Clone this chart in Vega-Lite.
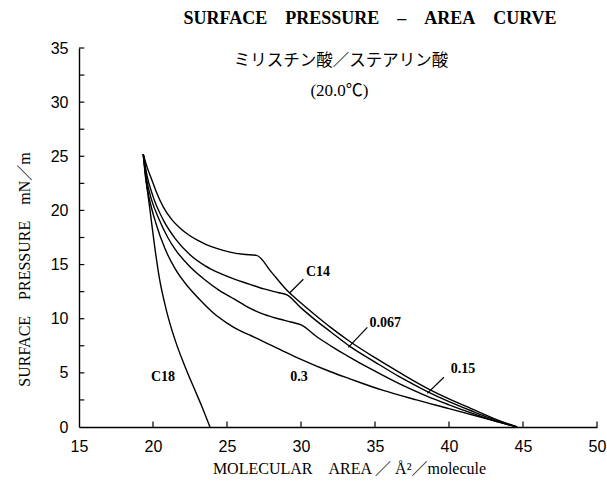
{
  "$schema": "https://vega.github.io/schema/vega-lite/v6.json",
  "autosize": "none",
  "width": 518,
  "height": 379,
  "padding": {"left": 79, "top": 48, "right": 10, "bottom": 66},
  "background": "white",
  "title": {
    "text": "SURFACE\u2003PRESSURE\u2003–\u2003AREA\u2003CURVE",
    "anchor": "middle",
    "frame": "group",
    "dx": 32,
    "offset": -2,
    "font": "Liberation Serif",
    "fontSize": 18,
    "fontWeight": "bold",
    "color": "black",
    "baseline": "alphabetic"
  },
  "config": {
    "view": {"stroke": null},
    "axis": {
      "grid": false,
      "ticks": false,
      "domainColor": "black",
      "domainWidth": 1.4,
      "labelFont": "Liberation Sans",
      "labelFontSize": 16,
      "labelColor": "black",
      "titleFont": "Liberation Serif, Noto Sans CJK JP",
      "titleFontSize": 16,
      "titleFontWeight": "normal",
      "titleColor": "black"
    }
  },
  "layer": [
    {
      "data": {
        "values": [
          {"s": "C14", "x": 19.34, "y": 25.2}, {"s": "C14", "x": 19.6, "y": 24.0}, {"s": "C14", "x": 19.9, "y": 22.9}, {"s": "C14", "x": 20.2, "y": 21.8}, {"s": "C14", "x": 20.7, "y": 20.3}, {"s": "C14", "x": 21.3, "y": 19.1}, {"s": "C14", "x": 21.8, "y": 18.4}, {"s": "C14", "x": 22.4, "y": 17.75}, {"s": "C14", "x": 23.0, "y": 17.25}, {"s": "C14", "x": 23.6, "y": 16.85}, {"s": "C14", "x": 24.3, "y": 16.5}, {"s": "C14", "x": 25.2, "y": 16.15}, {"s": "C14", "x": 26.1, "y": 15.95}, {"s": "C14", "x": 27.0, "y": 15.85}, {"s": "C14", "x": 28.0, "y": 14.3}, {"s": "C14", "x": 29.0, "y": 12.7}, {"s": "C14", "x": 30.0, "y": 11.45}, {"s": "C14", "x": 31.0, "y": 10.3}, {"s": "C14", "x": 32.0, "y": 9.2}, {"s": "C14", "x": 33.3, "y": 7.9}, {"s": "C14", "x": 35.0, "y": 6.4}, {"s": "C14", "x": 36.7, "y": 5.0}, {"s": "C14", "x": 38.5, "y": 3.6}, {"s": "C14", "x": 40.0, "y": 2.6}, {"s": "C14", "x": 41.5, "y": 1.7}, {"s": "C14", "x": 43.0, "y": 0.8}, {"s": "C14", "x": 44.6, "y": 0},
          {"s": "0.067", "x": 19.34, "y": 25.2}, {"s": "0.067", "x": 19.6, "y": 23.2}, {"s": "0.067", "x": 20.0, "y": 21.3}, {"s": "0.067", "x": 20.7, "y": 19.1}, {"s": "0.067", "x": 21.5, "y": 17.4}, {"s": "0.067", "x": 22.5, "y": 15.9}, {"s": "0.067", "x": 23.5, "y": 14.9}, {"s": "0.067", "x": 24.5, "y": 14.2}, {"s": "0.067", "x": 25.5, "y": 13.65}, {"s": "0.067", "x": 26.5, "y": 13.2}, {"s": "0.067", "x": 27.5, "y": 12.75}, {"s": "0.067", "x": 28.5, "y": 12.4}, {"s": "0.067", "x": 29.05, "y": 12.2}, {"s": "0.067", "x": 30.0, "y": 11.0}, {"s": "0.067", "x": 31.0, "y": 9.85}, {"s": "0.067", "x": 32.0, "y": 8.8}, {"s": "0.067", "x": 33.3, "y": 7.45}, {"s": "0.067", "x": 35.0, "y": 6.0}, {"s": "0.067", "x": 36.7, "y": 4.6}, {"s": "0.067", "x": 38.5, "y": 3.3}, {"s": "0.067", "x": 40.0, "y": 2.35}, {"s": "0.067", "x": 41.5, "y": 1.5}, {"s": "0.067", "x": 43.0, "y": 0.7}, {"s": "0.067", "x": 44.6, "y": 0},
          {"s": "0.15", "x": 19.34, "y": 25.2}, {"s": "0.15", "x": 19.55, "y": 23.0}, {"s": "0.15", "x": 19.9, "y": 21.0}, {"s": "0.15", "x": 20.4, "y": 19.2}, {"s": "0.15", "x": 21.0, "y": 17.5}, {"s": "0.15", "x": 21.5, "y": 16.4}, {"s": "0.15", "x": 22.5, "y": 14.8}, {"s": "0.15", "x": 23.5, "y": 13.6}, {"s": "0.15", "x": 24.5, "y": 12.6}, {"s": "0.15", "x": 25.5, "y": 11.8}, {"s": "0.15", "x": 26.5, "y": 11.0}, {"s": "0.15", "x": 27.5, "y": 10.4}, {"s": "0.15", "x": 28.6, "y": 9.95}, {"s": "0.15", "x": 29.3, "y": 9.7}, {"s": "0.15", "x": 30.05, "y": 9.4}, {"s": "0.15", "x": 31.0, "y": 8.4}, {"s": "0.15", "x": 32.0, "y": 7.5}, {"s": "0.15", "x": 33.1, "y": 6.6}, {"s": "0.15", "x": 35.0, "y": 5.15}, {"s": "0.15", "x": 36.7, "y": 3.95}, {"s": "0.15", "x": 38.5, "y": 2.85}, {"s": "0.15", "x": 40.0, "y": 2.05}, {"s": "0.15", "x": 41.5, "y": 1.3}, {"s": "0.15", "x": 43.0, "y": 0.6}, {"s": "0.15", "x": 44.6, "y": 0},
          {"s": "0.3", "x": 19.34, "y": 25.2}, {"s": "0.3", "x": 19.5, "y": 23.0}, {"s": "0.3", "x": 19.8, "y": 20.8}, {"s": "0.3", "x": 20.2, "y": 18.8}, {"s": "0.3", "x": 20.8, "y": 16.5}, {"s": "0.3", "x": 21.5, "y": 14.6}, {"s": "0.3", "x": 22.4, "y": 12.9}, {"s": "0.3", "x": 23.2, "y": 11.7}, {"s": "0.3", "x": 24.1, "y": 10.5}, {"s": "0.3", "x": 25.0, "y": 9.6}, {"s": "0.3", "x": 25.8, "y": 8.95}, {"s": "0.3", "x": 26.6, "y": 8.45}, {"s": "0.3", "x": 27.6, "y": 7.8}, {"s": "0.3", "x": 28.6, "y": 7.15}, {"s": "0.3", "x": 30.0, "y": 6.25}, {"s": "0.3", "x": 32.0, "y": 5.1}, {"s": "0.3", "x": 33.3, "y": 4.45}, {"s": "0.3", "x": 35.5, "y": 3.4}, {"s": "0.3", "x": 37.8, "y": 2.5}, {"s": "0.3", "x": 40.0, "y": 1.7}, {"s": "0.3", "x": 42.3, "y": 0.85}, {"s": "0.3", "x": 43.5, "y": 0.4}, {"s": "0.3", "x": 44.6, "y": 0},
          {"s": "C18", "x": 19.34, "y": 25.2}, {"s": "C18", "x": 19.5, "y": 23.2}, {"s": "C18", "x": 19.8, "y": 20.0}, {"s": "C18", "x": 20.1, "y": 16.8}, {"s": "C18", "x": 20.45, "y": 13.6}, {"s": "C18", "x": 20.9, "y": 10.8}, {"s": "C18", "x": 21.5, "y": 8.0}, {"s": "C18", "x": 22.1, "y": 5.8}, {"s": "C18", "x": 22.8, "y": 3.5}, {"s": "C18", "x": 23.3, "y": 1.9}, {"s": "C18", "x": 23.85, "y": 0}
        ]
      },
      "mark": {"type": "line", "color": "black", "strokeWidth": 1.4, "interpolate": "monotone"},
      "encoding": {
        "x": {
          "field": "x", "type": "quantitative",
          "scale": {"domain": [15, 50], "nice": false, "zero": false},
          "axis": {
            "values": [15, 20, 25, 30, 35, 40, 45, 50],
            "title": "MOLECULAR\u2003AREA ／ Å²／molecule",
            "labelPadding": 11,
            "titlePadding": 6,
            "titleX": 270,
            "labelFlush": false
          }
        },
        "y": {
          "field": "y", "type": "quantitative",
          "scale": {"domain": [0, 35], "nice": false},
          "axis": {
            "values": [0, 5, 10, 15, 20, 25, 30, 35],
            "title": "SURFACE\u2003PRESSURE\u2003mN／m",
            "labelPadding": 11,
            "titlePadding": 18,
            "titleY": 221,
            "labelFlush": false
          }
        },
        "detail": {"field": "s"},
        "order": {"field": "x", "type": "quantitative"}
      }
    },
    {
      "data": {
        "values": [
          {"v": 2.5}, {"v": 5}, {"v": 7.5}, {"v": 10}, {"v": 12.5}, {"v": 15}, {"v": 17.5}, {"v": 20}, {"v": 22.5}, {"v": 25}, {"v": 27.5}, {"v": 30}, {"v": 32.5}, {"v": 35}
        ]
      },
      "mark": {"type": "rule", "color": "black", "strokeWidth": 1.2},
      "encoding": {
        "y": {"field": "v", "type": "quantitative"},
        "x": {"datum": 15, "type": "quantitative"},
        "x2": {"datum": 15.36}
      }
    },
    {
      "data": {
        "values": [
          {"v": 20}, {"v": 25}, {"v": 30}, {"v": 35}, {"v": 40}, {"v": 45}, {"v": 50}
        ]
      },
      "mark": {"type": "rule", "color": "black", "strokeWidth": 1.2},
      "encoding": {
        "x": {"field": "v", "type": "quantitative"},
        "y": {"datum": 0, "type": "quantitative"},
        "y2": {"datum": 0.5}
      }
    },
    {
      "data": {
        "values": [
          {"x1": 30.16, "y1": 13.64, "x2": 29.21, "y2": 12.35},
          {"x1": 34.48, "y1": 9.2, "x2": 33.2, "y2": 7.36},
          {"x1": 39.66, "y1": 4.59, "x2": 38.53, "y2": 3.11}
        ]
      },
      "mark": {"type": "rule", "color": "black", "strokeWidth": 1.2},
      "encoding": {
        "x": {"field": "x1", "type": "quantitative"},
        "y": {"field": "y1", "type": "quantitative"},
        "x2": {"field": "x2"},
        "y2": {"field": "y2"}
      }
    },
    {
      "data": {
        "values": [
          {"t": "C14", "x": 31.15, "y": 14.3},
          {"t": "0.067", "x": 35.7, "y": 9.6},
          {"t": "0.15", "x": 40.95, "y": 5.35},
          {"t": "0.3", "x": 29.86, "y": 4.64},
          {"t": "C18", "x": 20.68, "y": 4.62}
        ]
      },
      "mark": {"type": "text", "font": "Liberation Serif", "fontSize": 14, "fontWeight": "bold", "color": "black", "align": "center", "baseline": "middle"},
      "encoding": {
        "x": {"field": "x", "type": "quantitative"},
        "y": {"field": "y", "type": "quantitative"},
        "text": {"field": "t"}
      }
    },
    {
      "data": {"values": [{"t": "ミリスチン酸／ステアリン酸", "x": 32.7, "y": 33.8}]},
      "mark": {"type": "text", "font": "Noto Sans CJK JP", "fontSize": 16.5, "color": "black", "align": "center", "baseline": "middle"},
      "encoding": {
        "x": {"field": "x", "type": "quantitative"},
        "y": {"field": "y", "type": "quantitative"},
        "text": {"field": "t"}
      }
    },
    {
      "data": {"values": [{"t": "(20.0℃)", "x": 32.6, "y": 31.0}]},
      "mark": {"type": "text", "font": "Liberation Serif, Noto Sans CJK JP", "fontSize": 17, "color": "black", "align": "center", "baseline": "middle"},
      "encoding": {
        "x": {"field": "x", "type": "quantitative"},
        "y": {"field": "y", "type": "quantitative"},
        "text": {"field": "t"}
      }
    }
  ]
}
